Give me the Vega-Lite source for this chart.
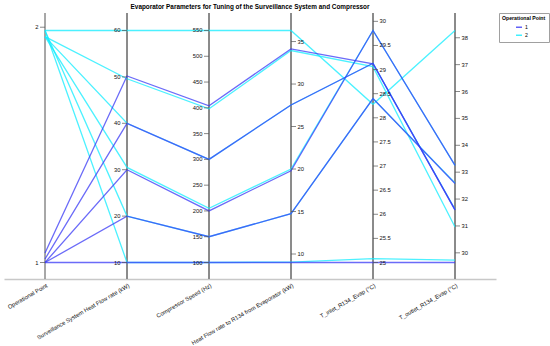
{
  "$schema": "https://vega.github.io/schema/vega-lite/v6.json",
  "width": 492,
  "height": 266,
  "autosize": {"type": "none"},
  "padding": {"left": 4, "top": 13, "right": 54, "bottom": 67},
  "background": "white",
  "config": {"view": {"stroke": null}, "font": "Liberation Sans"},
  "title": {"text": "Evaporator Parameters for Tuning of the Surveillance System and Compressor", "fontSize": 6.4, "fontWeight": "bold", "color": "#000", "anchor": "middle", "offset": 2, "font": "Liberation Sans"},
  "data": {"values": [
    {"id": "C60", "op": "2", "dim": "Operational Point", "value": 1.986},
    {"id": "C60", "op": "2", "dim": "Surveillance System Heat Flow rate (kW)", "value": 60},
    {"id": "C60", "op": "2", "dim": "Compressor Speed (Hz)", "value": 550},
    {"id": "C60", "op": "2", "dim": "Heat Flow rate to R134 from Evaporator (kW)", "value": 36.3},
    {"id": "C60", "op": "2", "dim": "T_inlet_R134_Evap (°C)", "value": 28.28},
    {"id": "C60", "op": "2", "dim": "T_outlet_R134_Evap (°C)", "value": 38.27},
    {"id": "C50", "op": "2", "dim": "Operational Point", "value": 1.96},
    {"id": "C50", "op": "2", "dim": "Surveillance System Heat Flow rate (kW)", "value": 49.6},
    {"id": "C50", "op": "2", "dim": "Compressor Speed (Hz)", "value": 398},
    {"id": "C50", "op": "2", "dim": "Heat Flow rate to R134 from Evaporator (kW)", "value": 33.94},
    {"id": "C50", "op": "2", "dim": "T_inlet_R134_Evap (°C)", "value": 29.06},
    {"id": "C50", "op": "2", "dim": "T_outlet_R134_Evap (°C)", "value": 30.96},
    {"id": "C40", "op": "2", "dim": "Operational Point", "value": 1.96},
    {"id": "C40", "op": "2", "dim": "Surveillance System Heat Flow rate (kW)", "value": 40},
    {"id": "C40", "op": "2", "dim": "Compressor Speed (Hz)", "value": 300},
    {"id": "C40", "op": "2", "dim": "Heat Flow rate to R134 from Evaporator (kW)", "value": 27.54},
    {"id": "C40", "op": "2", "dim": "T_inlet_R134_Evap (°C)", "value": 29.13},
    {"id": "C40", "op": "2", "dim": "T_outlet_R134_Evap (°C)", "value": 31.62},
    {"id": "C30", "op": "2", "dim": "Operational Point", "value": 1.96},
    {"id": "C30", "op": "2", "dim": "Surveillance System Heat Flow rate (kW)", "value": 30.5},
    {"id": "C30", "op": "2", "dim": "Compressor Speed (Hz)", "value": 205},
    {"id": "C30", "op": "2", "dim": "Heat Flow rate to R134 from Evaporator (kW)", "value": 20.0},
    {"id": "C30", "op": "2", "dim": "T_inlet_R134_Evap (°C)", "value": 29.81},
    {"id": "C30", "op": "2", "dim": "T_outlet_R134_Evap (°C)", "value": 33.25},
    {"id": "C20", "op": "2", "dim": "Operational Point", "value": 1.986},
    {"id": "C20", "op": "2", "dim": "Surveillance System Heat Flow rate (kW)", "value": 20},
    {"id": "C20", "op": "2", "dim": "Compressor Speed (Hz)", "value": 150},
    {"id": "C20", "op": "2", "dim": "Heat Flow rate to R134 from Evaporator (kW)", "value": 14.75},
    {"id": "C20", "op": "2", "dim": "T_inlet_R134_Evap (°C)", "value": 28.4},
    {"id": "C20", "op": "2", "dim": "T_outlet_R134_Evap (°C)", "value": 32.6},
    {"id": "C10", "op": "2", "dim": "Operational Point", "value": 1.986},
    {"id": "C10", "op": "2", "dim": "Surveillance System Heat Flow rate (kW)", "value": 10},
    {"id": "C10", "op": "2", "dim": "Compressor Speed (Hz)", "value": 100},
    {"id": "C10", "op": "2", "dim": "Heat Flow rate to R134 from Evaporator (kW)", "value": 9.05},
    {"id": "C10", "op": "2", "dim": "T_inlet_R134_Evap (°C)", "value": 25.08},
    {"id": "C10", "op": "2", "dim": "T_outlet_R134_Evap (°C)", "value": 29.73},
    {"id": "B50", "op": "1", "dim": "Operational Point", "value": 1.04},
    {"id": "B50", "op": "1", "dim": "Surveillance System Heat Flow rate (kW)", "value": 50.2},
    {"id": "B50", "op": "1", "dim": "Compressor Speed (Hz)", "value": 404},
    {"id": "B50", "op": "1", "dim": "Heat Flow rate to R134 from Evaporator (kW)", "value": 34.14},
    {"id": "B50", "op": "1", "dim": "T_inlet_R134_Evap (°C)", "value": 29.12},
    {"id": "B50", "op": "1", "dim": "T_outlet_R134_Evap (°C)", "value": 31.6},
    {"id": "B40", "op": "1", "dim": "Operational Point", "value": 1.015},
    {"id": "B40", "op": "1", "dim": "Surveillance System Heat Flow rate (kW)", "value": 40},
    {"id": "B40", "op": "1", "dim": "Compressor Speed (Hz)", "value": 300},
    {"id": "B40", "op": "1", "dim": "Heat Flow rate to R134 from Evaporator (kW)", "value": 27.54},
    {"id": "B40", "op": "1", "dim": "T_inlet_R134_Evap (°C)", "value": 29.13},
    {"id": "B40", "op": "1", "dim": "T_outlet_R134_Evap (°C)", "value": 31.6},
    {"id": "B30", "op": "1", "dim": "Operational Point", "value": 1.0},
    {"id": "B30", "op": "1", "dim": "Surveillance System Heat Flow rate (kW)", "value": 30},
    {"id": "B30", "op": "1", "dim": "Compressor Speed (Hz)", "value": 200},
    {"id": "B30", "op": "1", "dim": "Heat Flow rate to R134 from Evaporator (kW)", "value": 19.8},
    {"id": "B30", "op": "1", "dim": "T_inlet_R134_Evap (°C)", "value": 29.81},
    {"id": "B30", "op": "1", "dim": "T_outlet_R134_Evap (°C)", "value": 33.25},
    {"id": "B20", "op": "1", "dim": "Operational Point", "value": 1.0},
    {"id": "B20", "op": "1", "dim": "Surveillance System Heat Flow rate (kW)", "value": 20},
    {"id": "B20", "op": "1", "dim": "Compressor Speed (Hz)", "value": 150},
    {"id": "B20", "op": "1", "dim": "Heat Flow rate to R134 from Evaporator (kW)", "value": 14.75},
    {"id": "B20", "op": "1", "dim": "T_inlet_R134_Evap (°C)", "value": 28.4},
    {"id": "B20", "op": "1", "dim": "T_outlet_R134_Evap (°C)", "value": 32.58},
    {"id": "B10", "op": "1", "dim": "Operational Point", "value": 1.0},
    {"id": "B10", "op": "1", "dim": "Surveillance System Heat Flow rate (kW)", "value": 10},
    {"id": "B10", "op": "1", "dim": "Compressor Speed (Hz)", "value": 100},
    {"id": "B10", "op": "1", "dim": "Heat Flow rate to R134 from Evaporator (kW)", "value": 9.0},
    {"id": "B10", "op": "1", "dim": "T_inlet_R134_Evap (°C)", "value": 25.0},
    {"id": "B10", "op": "1", "dim": "T_outlet_R134_Evap (°C)", "value": 29.64},
    {"dim": "Operational Point", "tick": 1},
    {"dim": "Operational Point", "tick": 2},
    {"dim": "Surveillance System Heat Flow rate (kW)", "tick": 10},
    {"dim": "Surveillance System Heat Flow rate (kW)", "tick": 20},
    {"dim": "Surveillance System Heat Flow rate (kW)", "tick": 30},
    {"dim": "Surveillance System Heat Flow rate (kW)", "tick": 40},
    {"dim": "Surveillance System Heat Flow rate (kW)", "tick": 50},
    {"dim": "Surveillance System Heat Flow rate (kW)", "tick": 60},
    {"dim": "Compressor Speed (Hz)", "tick": 100},
    {"dim": "Compressor Speed (Hz)", "tick": 150},
    {"dim": "Compressor Speed (Hz)", "tick": 200},
    {"dim": "Compressor Speed (Hz)", "tick": 250},
    {"dim": "Compressor Speed (Hz)", "tick": 300},
    {"dim": "Compressor Speed (Hz)", "tick": 350},
    {"dim": "Compressor Speed (Hz)", "tick": 400},
    {"dim": "Compressor Speed (Hz)", "tick": 450},
    {"dim": "Compressor Speed (Hz)", "tick": 500},
    {"dim": "Compressor Speed (Hz)", "tick": 550},
    {"dim": "Heat Flow rate to R134 from Evaporator (kW)", "tick": 10},
    {"dim": "Heat Flow rate to R134 from Evaporator (kW)", "tick": 15},
    {"dim": "Heat Flow rate to R134 from Evaporator (kW)", "tick": 20},
    {"dim": "Heat Flow rate to R134 from Evaporator (kW)", "tick": 25},
    {"dim": "Heat Flow rate to R134 from Evaporator (kW)", "tick": 30},
    {"dim": "Heat Flow rate to R134 from Evaporator (kW)", "tick": 35},
    {"dim": "T_inlet_R134_Evap (°C)", "tick": 25},
    {"dim": "T_inlet_R134_Evap (°C)", "tick": 25.5},
    {"dim": "T_inlet_R134_Evap (°C)", "tick": 26},
    {"dim": "T_inlet_R134_Evap (°C)", "tick": 26.5},
    {"dim": "T_inlet_R134_Evap (°C)", "tick": 27},
    {"dim": "T_inlet_R134_Evap (°C)", "tick": 27.5},
    {"dim": "T_inlet_R134_Evap (°C)", "tick": 28},
    {"dim": "T_inlet_R134_Evap (°C)", "tick": 28.5},
    {"dim": "T_inlet_R134_Evap (°C)", "tick": 29},
    {"dim": "T_inlet_R134_Evap (°C)", "tick": 29.5},
    {"dim": "T_inlet_R134_Evap (°C)", "tick": 30},
    {"dim": "T_outlet_R134_Evap (°C)", "tick": 30},
    {"dim": "T_outlet_R134_Evap (°C)", "tick": 31},
    {"dim": "T_outlet_R134_Evap (°C)", "tick": 32},
    {"dim": "T_outlet_R134_Evap (°C)", "tick": 33},
    {"dim": "T_outlet_R134_Evap (°C)", "tick": 34},
    {"dim": "T_outlet_R134_Evap (°C)", "tick": 35},
    {"dim": "T_outlet_R134_Evap (°C)", "tick": 36},
    {"dim": "T_outlet_R134_Evap (°C)", "tick": 37},
    {"dim": "T_outlet_R134_Evap (°C)", "tick": 38}
  ]},
  "transform": [
    {"joinaggregate": [{"op": "min", "field": "value", "as": "lo"}, {"op": "max", "field": "value", "as": "hi"}], "groupby": ["dim"]},
    {"calculate": "((isValid(datum.value) ? datum.value : datum.tick) - datum.lo) / (datum.hi - datum.lo)", "as": "norm"},
    {"calculate": "indexof(['Operational Point','Surveillance System Heat Flow rate (kW)','Compressor Speed (Hz)'], datum.dim) >= 0", "as": "leftSide"}
  ],
  "encoding": {
    "x": {
      "field": "dim", "type": "nominal",
      "sort": ["Operational Point", "Surveillance System Heat Flow rate (kW)", "Compressor Speed (Hz)", "Heat Flow rate to R134 from Evaporator (kW)", "T_inlet_R134_Evap (°C)", "T_outlet_R134_Evap (°C)"],
      "scale": {"type": "point", "padding": 0.5},
      "axis": {"title": null, "ticks": false, "domain": true, "domainColor": "#c8c8c8", "domainWidth": 1.5, "labelAngle": -30, "labelAlign": "right", "labelBaseline": "top", "labelPadding": 3, "labelFontSize": 5.8, "labelColor": "#111", "labelFont": "Liberation Sans", "grid": false}
    }
  },
  "layer": [
    {
      "transform": [{"filter": "isValid(datum.tick)"}],
      "mark": {"type": "rule", "color": "#8a8a8a", "strokeWidth": 1},
      "encoding": {}
    },
    {
      "transform": [{"filter": "isValid(datum.value)"}],
      "mark": {"type": "line", "strokeWidth": 1.3, "opacity": 0.75},
      "encoding": {
        "y": {"field": "norm", "type": "quantitative", "scale": {"domain": [-0.0711, 1.0754], "nice": false, "zero": false}, "axis": null},
        "color": {"field": "op", "type": "nominal", "scale": {"domain": ["1", "2"], "range": ["#3a3af5", "#10ecff"]},
          "legend": {"title": "Operational Point", "orient": "none", "legendX": 495, "legendY": 0, "symbolType": "stroke", "symbolSize": 36, "symbolStrokeWidth": 1.2, "symbolOpacity": 1, "symbolOffset": 13, "labelOffset": 2, "titleFontSize": 5.2, "titleFont": "Liberation Sans", "titleFontWeight": "bold", "titleColor": "#000", "titlePadding": 2, "labelFontSize": 5.2, "labelFont": "Liberation Sans", "labelColor": "#000", "padding": 3, "rowPadding": 0, "strokeColor": "#a0a0a0", "fillColor": "white"}},
        "detail": {"field": "id"}
      }
    },
    {
      "transform": [{"filter": "isValid(datum.tick) && datum.leftSide"}],
      "mark": {"type": "tick", "size": 5, "thickness": 1, "color": "#555", "xOffset": -2.5},
      "encoding": {"y": {"field": "norm", "type": "quantitative"}}
    },
    {
      "transform": [{"filter": "isValid(datum.tick) && !datum.leftSide"}],
      "mark": {"type": "tick", "size": 5, "thickness": 1, "color": "#555", "xOffset": 2.5},
      "encoding": {"y": {"field": "norm", "type": "quantitative"}}
    },
    {
      "transform": [{"filter": "isValid(datum.tick) && datum.leftSide"}],
      "mark": {"type": "text", "align": "right", "baseline": "middle", "dx": -6.5, "fontSize": 5.8, "color": "#111", "font": "Liberation Sans"},
      "encoding": {"y": {"field": "norm", "type": "quantitative"}, "text": {"field": "tick", "type": "nominal"}}
    },
    {
      "transform": [{"filter": "isValid(datum.tick) && !datum.leftSide"}],
      "mark": {"type": "text", "align": "left", "baseline": "middle", "dx": 6.5, "fontSize": 5.8, "color": "#111", "font": "Liberation Sans"},
      "encoding": {"y": {"field": "norm", "type": "quantitative"}, "text": {"field": "tick", "type": "nominal"}}
    }
  ]
}
